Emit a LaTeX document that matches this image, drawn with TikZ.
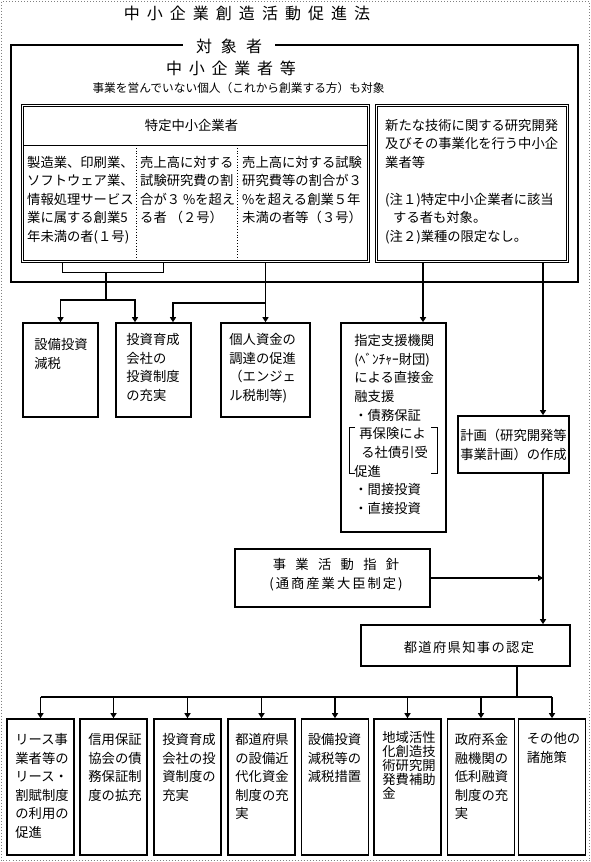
\documentclass[tikz,border=0pt]{standalone}
\usepackage{fontspec}
\setmainfont{Noto Sans CJK JP}
\usetikzlibrary{arrows.meta}
\begin{document}
\begin{tikzpicture}[x=1pt,y=-1pt,
  box/.style={draw, line width=1.6pt, inner sep=0pt},
  dbox/.style={draw, line width=0.8pt, inner sep=0pt},
  inset/.style={line width=0.8pt},
  txt/.style={inner sep=0pt, align=left, anchor=north west, font=\fontsize{13.3}{18.5}\selectfont},
  link/.style={line width=1.5pt},
  arr/.style={line width=1.5pt, -{Triangle[length=5pt,width=6pt]}},
  lowbox/.style={box, minimum width=67pt, minimum height=136pt}]
\useasboundingbox (0,0) rectangle (591,862);
\draw[gray, dotted, line width=1pt] (1.5,1.5) rectangle (589.5,860.5);

% heading and frame
\node[inner sep=0pt, font=\fontsize{16}{20}\selectfont\addfontfeatures{LetterSpace=44}] (title) at (247,13) {中小企業創造活動促進法};
\node[inner sep=0pt, inner xsep=13pt, font=\fontsize{16}{20}\selectfont] (taisho) at (229,46) {対\hspace{9pt}象\hspace{9pt}者};
\draw[line width=1.6pt] (taisho.west |- 0,45) -- (11,45) -- (11,282) -- (578,282) -- (578,45) -- (taisho.east |- 0,45);
\node[inner sep=0pt, font=\fontsize{16}{20}\selectfont\addfontfeatures{LetterSpace=42}] (chusho) at (231,68) {中小企業者等};
\node[inner sep=0pt, font=\fontsize{11.7}{14}\selectfont] (target) at (238.5,88) {事業を営んでいない個人（これから創業する方）も対象};

% tokutei chusho kigyosha
\node[dbox, minimum width=348pt, minimum height=158pt] (tokutei) at (195.5,183.5) {};
\draw[inset] ([shift={(2.2pt,-2.2pt)}]tokutei.north west) rectangle ([shift={(-2.2pt,2.2pt)}]tokutei.south east);
\draw[inset] ([xshift=2.2pt]tokutei.west |- 0,145) -- ([xshift=-2.2pt]tokutei.east |- 0,145);
\draw[dotted, line width=0.8pt] (136,145) -- ([yshift=2.2pt]tokutei.south -| 136,0);
\draw[dotted, line width=0.8pt] (237,145) -- ([yshift=2.2pt]tokutei.south -| 237,0);
\node[txt, anchor=center] (tokuteihead) at (191.5,125) {特定中小企業者};
\node[txt] (gou1) at (27,156) {製造業、印刷業、\\ソフトウェア業、\\情報処理サービス\\業に属する創業5\\年未満の者(１号)};
\node[txt] (gou2) at (140,156) {売上高に対する\\試験研究費の割\\合が３ \%を超え\\る者 （２号）};
\node[txt] (gou3) at (242,156) {売上高に対する試験\\研究費等の割合が３\\\%を超える創業５年\\未満の者等（３号）};

\node[dbox, minimum width=193pt, minimum height=158pt] (shinki) at (472,183.5) {};
\draw[inset] ([shift={(2.2pt,-2.2pt)}]shinki.north west) rectangle ([shift={(-2.2pt,2.2pt)}]shinki.south east);
\node[txt] (shinkit) at (385,119) {新たな技術に関する研究開発\\及びその事業化を行う中小企\\業者等\\[18.5pt](注１)特定中小企業者に該当\\\hspace*{8pt}する者も対象。\\(注２)業種の限定なし。};

% first measures
\node[box, minimum width=75pt, minimum height=94pt] (genzei) at (60.5,370) {};
\node[box, minimum width=75pt, minimum height=94pt] (ikusei) at (153.5,370) {};
\node[box, minimum width=89pt, minimum height=94pt] (kojin) at (265.5,370) {};
\node[txt] (genzeit) at ([xshift=12pt,yshift=-16pt]genzei.north west) {設備投資\\減税};
\node[txt] (ikuseit) at ([xshift=11pt,yshift=-11pt]ikusei.north west) {投資育成\\会社の\\投資制度\\の充実};
\node[txt] (kojint) at ([xshift=9pt,yshift=-11pt]kojin.north west) {個人資金の\\調達の促進\\（エンジェ\\ル税制等)};

\draw[line width=0.8pt] (tokutei.south -| 62,0) -- (62,272) -- (163,272) -- (tokutei.south -| 163,0);
\coordinate (fork) at (106,300);
\draw[link] (106,272) -- (fork);
\draw[arr] (fork) -| (genzei.north);
\draw[arr] (fork) -| ([xshift=-18.5pt]ikusei.north);
\draw[arr] (tokutei.south -| kojin.north) -- (kojin.north);
\draw[arr] (kojin.north |- 0,303) -| ([xshift=19.5pt]ikusei.north);

% support and plan
\node[box, minimum width=105pt, minimum height=209pt] (shien) at (393.5,427.5) {};
\node[txt, font=\fontsize{13.3}{18.67}\selectfont] (shient) at ([xshift=14pt,yshift=-12pt]shien.north west) {指定支援機関\\(ﾍﾞﾝﾁｬｰ財団)\\による直接金\\融支援\\・債務保証\\\hspace*{5pt}再保険によ\\\hspace*{7pt}る社債引受\\促進\\・間接投資\\・直接投資};
\draw[line width=0.8pt] (355,427) -- (349,427) -- (349,473) -- (355,473);
\draw[line width=0.8pt] (431,427) -- (437,427) -- (437,473) -- (431,473);

\node[box, minimum width=111pt, minimum height=57pt] (keikaku) at (513.5,444.5) {};
\node[txt, anchor=north] (keikakut) at ([yshift=-14pt]keikaku.north) {計画（研究開発等\\事業計画）の作成};

\node[box, minimum width=195pt, minimum height=58pt] (shishin) at (332.5,578) {};
\node[txt, anchor=center, align=center] (shishint) at (336,574.5) {{\addfontfeatures{LetterSpace=70}事業活動指針}\\{\addfontfeatures{LetterSpace=15}(通商産業大臣制定)}};

\node[box, minimum width=209pt, minimum height=41pt] (nintei) at (465.5,645.5) {};
\node[inner sep=0pt, font=\fontsize{13.3}{16}\selectfont\addfontfeatures{LetterSpace=10}] (ninteit) at (469,647) {都道府県知事の認定};

\coordinate (spine) at (543,0);
\draw[arr] (shinki.south -| 423,0) -- (shien.north -| 423,0);
\draw[arr] (shinki.south -| spine) -- (keikaku.north -| spine);
\draw[arr] (keikaku.south -| spine) -- (nintei.north -| spine);
\draw[arr] (shishin.east) -- (shishin.east -| spine);

% measures after approval
\node[lowbox] (b1) at (40.5,787) {};
\node[lowbox] (b2) at (113.5,787) {};
\node[lowbox] (b3) at (187.5,787) {};
\node[lowbox] (b4) at (261.5,787) {};
\node[lowbox] (b5) at (335,787) {};
\node[lowbox] (b6) at (407.5,787) {};
\node[lowbox] (b7) at (481,787) {};
\node[lowbox] (b8) at (552,787) {};
\node[txt] (b1t) at ([xshift=9pt,yshift=-15pt]b1.north west) {リース事\\業者等の\\リース・\\割賦制度\\の利用の\\促進};
\node[txt] (b2t) at ([xshift=9pt,yshift=-15pt]b2.north west) {信用保証\\協会の債\\務保証制\\度の拡充};
\node[txt] (b3t) at ([xshift=9pt,yshift=-15pt]b3.north west) {投資育成\\会社の投\\資制度の\\充実};
\node[txt] (b4t) at ([xshift=8pt,yshift=-15pt]b4.north west) {都道府県\\の設備近\\代化資金\\制度の充\\実};
\node[txt] (b5t) at ([xshift=7pt,yshift=-15pt]b5.north west) {設備投資\\減税等の\\減税措置};
\node[txt, font=\fontsize{13.3}{14}\selectfont] (b6t) at ([xshift=9pt,yshift=-13pt]b6.north west) {地域活性\\化創造技\\術研究開\\発費補助\\金};
\node[txt] (b7t) at ([xshift=8pt,yshift=-15pt]b7.north west) {政府系金\\融機関の\\低利融資\\制度の充\\実};
\node[txt] (b8t) at ([xshift=9pt,yshift=-14pt]b8.north west) {その他の\\諸施策};

\coordinate (bus) at (517,697);
\draw[link] (nintei.south -| bus) -- (bus);
\draw[link] (b1.north |- bus) -- (b8.north |- bus);
\draw[arr] (b1.north |- bus) -- (b1.north);
\draw[arr] (b2.north |- bus) -- (b2.north);
\draw[arr] (b3.north |- bus) -- (b3.north);
\draw[arr] (b4.north |- bus) -- (b4.north);
\draw[arr] (b5.north |- bus) -- (b5.north);
\draw[arr] (b6.north |- bus) -- (b6.north);
\draw[arr] (b7.north |- bus) -- (b7.north);
\draw[arr] (b8.north |- bus) -- (b8.north);
\end{tikzpicture}
\end{document}
